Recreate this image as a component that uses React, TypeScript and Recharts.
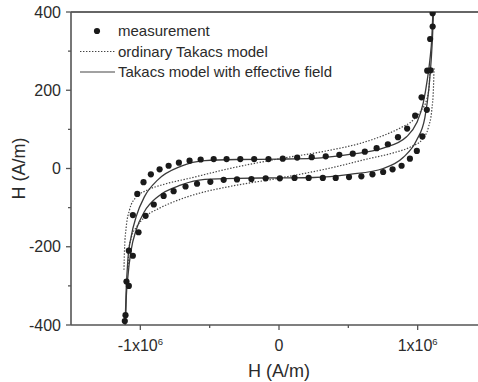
import React from 'react';
import { ComposedChart, Line, Scatter, XAxis, YAxis, ReferenceLine, Legend } from 'recharts';

// x values are in units of 1x10^6
const measuredUpper: [number, number][] = [
  [-1.112, -390], [-1.107, -375], [-1.1, -289], [-1.083, -210], [-1.054, -119], [-1.022, -65],
  [-0.977, -35], [-0.924, -15], [-0.861, -2], [-0.796, 7], [-0.722, 15], [-0.645, 20],
  [-0.565, 23], [-0.471, 24], [-0.378, 24], [-0.279, 24], [-0.179, 24], [-0.076, 24],
  [0.027, 25], [0.131, 28], [0.236, 29], [0.337, 31], [0.435, 35], [0.532, 38],
  [0.619, 43], [0.704, 52], [0.785, 62], [0.858, 80], [0.924, 102], [0.982, 135],
  [1.028, 182], [1.069, 250], [1.09, 331], [1.108, 363], [1.108, 397],
];

const measuredLower: [number, number][] = [
  [-1.083, -300], [-1.054, -223], [-1.013, -163], [-0.962, -121], [-0.903, -92], [-0.832, -70],
  [-0.76, -58], [-0.674, -46], [-0.591, -39], [-0.495, -34], [-0.399, -29], [-0.303, -28],
  [-0.199, -27], [-0.096, -25], [0.006, -25], [0.112, -24], [0.214, -24], [0.316, -24],
  [0.409, -24], [0.505, -22], [0.594, -20], [0.674, -15], [0.751, -9], [0.819, -2],
  [0.884, 7], [0.944, 25], [0.994, 45], [1.034, 82], [1.066, 150], [1.093, 251],
];

const effectiveUpper: [number, number][] = [
  [-1.11, -400], [-1.102, -310], [-1.09, -234], [-1.066, -174], [-1.03, -123], [-0.97, -72],
  [-0.874, -29], [-0.705, 6], [-0.535, 20], [-0.3, 23], [0, 24], [0.25, 26], [0.51, 36],
  [0.751, 52], [0.92, 81], [0.992, 116], [1.04, 167], [1.069, 226], [1.088, 277],
  [1.103, 340], [1.11, 400],
];

const effectiveLower: [number, number][] = [
  [-1.107, -400], [-1.102, -336], [-1.09, -277], [-1.066, -208], [-1.03, -157], [-0.97, -110],
  [-0.874, -72], [-0.705, -42], [-0.535, -28], [-0.3, -25], [0, -24], [0.25, -23], [0.51, -15],
  [0.751, 0], [0.895, 28], [0.992, 72], [1.052, 130], [1.081, 205], [1.098, 280],
  [1.107, 336], [1.114, 400],
];

const ordinaryUpper: [number, number][] = [
  [-1.118, -259], [-1.114, -208], [-1.102, -150], [-1.078, -106], [-1.035, -75], [-0.948, -55],
  [-0.825, -40], [-0.645, -25], [-0.356, 0], [0.005, 25], [0.356, 46], [0.583, 64],
  [0.751, 84], [0.871, 103], [0.968, 124], [1.028, 150], [1.064, 175], [1.083, 209], [1.088, 252],
];

const ordinaryLower: [number, number][] = [
  [-1.088, -252], [-1.083, -209], [-1.064, -175], [-1.028, -150], [-0.968, -124], [-0.871, -103],
  [-0.751, -84], [-0.583, -64], [-0.356, -46], [-0.005, -25], [0.356, 0], [0.645, 25],
  [0.825, 40], [0.948, 55], [1.035, 75], [1.078, 106], [1.102, 150], [1.114, 208], [1.118, 259],
];

const xMajorTicks = [-1, 0, 1];
const xMinorTicks = [-0.5, 0.5];
const yMajorTicks = [-400, -200, 0, 200, 400];
const yMinorTicks = [-300, -100, 100, 300];

const legendItems = [
  { label: 'measurement', kind: 'dot' },
  { label: 'ordinary Takacs model', kind: 'dotted' },
  { label: 'Takacs model with effective field', kind: 'solid' },
];

const FONT = '"Liberation Sans", Arial, Helvetica, sans-serif';
const INK = '#2b2b2b';
const AXIS = '#555';

const toPts = (arr: [number, number][]) => arr.map(([x, y]) => ({ x, y }));

const XTick = (props: any) => {
  const { x, y, payload } = props;
  const v = payload.value;
  const major = xMajorTicks.includes(v);
  return (
    <g>
      <line x1={x} x2={x} y1={y} y2={y + (major ? 5 : 3)} stroke={AXIS} strokeWidth={1.3} />
      {major && (
        <text x={x} y={y + 15} dy="0.71em" textAnchor="middle" fontSize={16} fill={INK} fontFamily={FONT}>
          {v === 0 ? (
            '0'
          ) : (
            <>
              <tspan>{`${v < 0 ? '-' : ''}${Math.abs(v)}x10`}</tspan>
              <tspan dy={-6.5} fontSize={9.5}>6</tspan>
            </>
          )}
        </text>
      )}
    </g>
  );
};

const YTick = (props: any) => {
  const { x, y, payload } = props;
  const v = payload.value;
  const major = yMajorTicks.includes(v);
  return (
    <g>
      <line x1={x - (major ? 5 : 3)} x2={x} y1={y} y2={y} stroke={AXIS} strokeWidth={1.3} />
      {major && (
        <text x={x - 10} y={y} dy="0.35em" textAnchor="end" fontSize={16} fill={INK} fontFamily={FONT}>
          {v}
        </text>
      )}
    </g>
  );
};

const LegendBox = () => (
  <svg width={320} height={90} style={{ overflow: 'visible' }}>
    {legendItems.map((item, i) => {
      const cy = 31 + i * 20.5;
      return (
        <g key={item.label}>
          {item.kind === 'dot' && <circle cx={97} cy={cy} r={3.1} fill="#1a1a1a" />}
          {item.kind === 'dotted' && (
            <line x1={80} x2={115} y1={cy} y2={cy} stroke="#444" strokeWidth={1.2} strokeDasharray="1.4 1.6" />
          )}
          {item.kind === 'solid' && <line x1={80} x2={115} y1={cy} y2={cy} stroke="#444" strokeWidth={1.2} />}
          <text x={118} y={cy} dy="0.35em" fontSize={15} fill={INK} fontFamily={FONT}>
            {item.label}
          </text>
        </g>
      );
    })}
  </svg>
);

const Dot = (props: any) => <circle cx={props.cx} cy={props.cy} r={3.1} fill="#1a1a1a" />;

export default function App() {
  const measured = [...toPts(measuredUpper), ...toPts(measuredLower)];
  return (
    <div style={{ position: 'fixed', left: 0, top: 0, width: 478, height: 382, overflow: 'hidden', background: '#fff' }}>
      <ComposedChart width={490} height={382} margin={{ top: 12, right: 3, bottom: 0, left: 0 }}>
        <XAxis
          dataKey="x"
          type="number"
          domain={[-1.5, 1.5]}
          allowDataOverflow
          ticks={[...xMajorTicks, ...xMinorTicks].sort((a, b) => a - b)}
          interval={0}
          tick={<XTick />}
          tickLine={false}
          tickSize={0}
          tickMargin={0}
          height={57}
          axisLine={{ stroke: AXIS, strokeWidth: 1.6 }}
          label={{ value: 'H (A/m)', position: 'insideBottom', offset: 5.5, fontSize: 18, fill: INK, fontFamily: FONT }}
        />
        <YAxis
          type="number"
          domain={[-400, 400]}
          allowDataOverflow
          ticks={[...yMajorTicks, ...yMinorTicks].sort((a, b) => a - b)}
          interval={0}
          tick={<YTick />}
          tickLine={false}
          tickSize={0}
          tickMargin={0}
          width={71}
          axisLine={{ stroke: AXIS, strokeWidth: 1.6 }}
          label={{
            value: 'H (A/m)',
            angle: -90,
            position: 'insideLeft',
            offset: 19,
            fontSize: 18,
            fill: INK,
            fontFamily: FONT,
            style: { textAnchor: 'middle' },
          }}
        />
        <ReferenceLine y={400} stroke="#666" strokeWidth={1.8} />
        <Legend
          layout="vertical"
          align="center"
          verticalAlign="middle"
          wrapperStyle={{ left: 0, top: 0, width: 320, height: 90 }}
          content={<LegendBox />}
        />
        <Line data={toPts(ordinaryUpper)} dataKey="y" type="monotone" stroke="#444" strokeWidth={1.2}
          strokeDasharray="1.4 1.6" dot={false} isAnimationActive={false} legendType="none" />
        <Line data={toPts(ordinaryLower)} dataKey="y" type="monotone" stroke="#444" strokeWidth={1.2}
          strokeDasharray="1.4 1.6" dot={false} isAnimationActive={false} legendType="none" />
        <Line data={toPts(effectiveUpper)} dataKey="y" type="monotone" stroke="#3a3a3a" strokeWidth={1.3}
          dot={false} isAnimationActive={false} legendType="none" />
        <Line data={toPts(effectiveLower)} dataKey="y" type="monotone" stroke="#3a3a3a" strokeWidth={1.3}
          dot={false} isAnimationActive={false} legendType="none" />
        <Scatter data={measured} dataKey="y" shape={<Dot />} isAnimationActive={false} legendType="none" />
      </ComposedChart>
    </div>
  );
}
